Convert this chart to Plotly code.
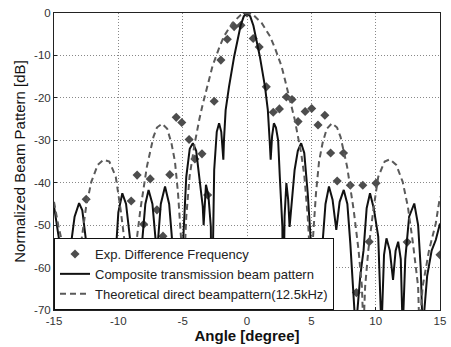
import plotly.graph_objects as go

# Exp. Difference Frequency (diamonds)
exp_angle = [-12.5, -10.05, -9.0, -8.54, -8.03, -7.52, -7.0, -6.53, -6.0, -5.5, -5.07, -4.5,
             -4.05, -3.5, -3.06, -2.55, -2.03, -1.53, -1.0, -0.47, 0.0, 0.48, 0.95, 1.5,
             2.04, 2.52, 3.06, 3.5, 3.97, 4.52, 5.03, 5.52, 6.05, 6.5, 7.01, 7.5, 8.03,
             8.5, 9.0, 9.5, 10.03, 12.45, 15.0]
exp_db = [-43.9, -56.6, -44.3, -38.2, -49.8, -39.1, -46.4, -52.6, -38.1, -24.6, -25.8, -29.8,
          -34.4, -33.2, -42.9, -20.8, -11.1, -6.2, -3.2, -2.9, 0.0, -6.0, -8.0, -17.4,
          -23.4, -22.6, -19.8, -20.4, -25.6, -23.2, -22.5, -26.4, -24.1, -33.0, -39.6, -33.0, -40.6,
          -65.9, -40.6, -53.9, -40.1, -54.0, -57.0]

# Composite transmission beam pattern (solid)
comp_angle = [-15.0, -14.6, -14.3, -14.0, -13.7, -13.4, -13.05, -12.8, -12.5, -12.25, -12.1,
              -11.95, -11.8, -11.6, -11.35, -11.1, -10.84, -10.6, -10.4, -10.2, -10.0, -9.69,
              -9.4, -9.05, -8.85, -8.6, -8.4, -8.16, -7.9, -7.65, -7.35, -7.0, -6.7, -6.37,
              -6.05, -5.74, -5.6, -5.35, -5.1, -4.97, -4.72, -4.45, -4.21, -3.95, -3.7, -3.44,
              -3.37, -3.19, -3.0, -2.81, -2.75, -2.6, -2.55, -2.35, -2.17, -2.0, -1.84, -1.79,
              -1.66, -1.4, -1.0, -0.5, -0.25, 0.0, 0.25, 0.5, 1.0, 1.4, 1.62, 1.76, 1.84,
              1.95, 2.09, 2.25, 2.42, 2.55, 2.75, 2.8, 2.92, 3.06, 3.2, 3.31, 3.44, 3.7, 3.95,
              4.21, 4.45, 4.72, 4.97, 5.1, 5.35, 5.6, 5.87, 6.1, 6.37, 6.65, 6.94, 7.2, 7.52,
              7.8, 8.03, 8.45, 8.8, 9.06, 9.3, 9.56, 9.85, 10.2, 10.45, 10.65, 10.84, 11.1,
              11.35, 11.55, 11.75, 11.95, 12.1, 12.3, 12.6, 13.0, 13.3, 13.5, 13.65, 14.0,
              14.35, 14.67, 15.0]
comp_db = [-45.5, -53.5, -62.0, -75.0, -55.0, -48.0, -44.8, -46.5, -54.0, -60.0, -75.0,
           -58.0, -54.5, -56.5, -59.0, -55.0, -53.1, -58.0, -75.0, -56.6, -47.0, -42.5,
           -45.0, -54.3, -75.0, -62.0, -75.0, -54.3, -45.0, -41.7, -45.0, -57.0, -45.0, -40.9,
           -45.0, -56.6, -75.0, -62.0, -75.0, -54.3, -38.6, -32.0, -30.7, -32.5, -38.6, -45.6,
           -50.0, -40.5, -43.0, -50.4, -75.0, -45.0, -37.0, -28.0, -26.0, -28.0, -34.6, -29.9,
           -22.9, -17.4, -10.3, -3.0, -0.8, 0.0, -0.8, -3.0, -10.3, -17.4, -22.9, -30.0, -34.6,
           -29.0, -26.0, -27.0, -30.0, -38.6, -50.4, -75.0, -48.0, -40.1, -44.0, -50.4, -46.4, -37.0, -32.5,
           -30.7, -33.0, -42.5, -54.3, -75.0, -57.0, -75.0, -54.3, -45.0, -40.9, -44.0, -51.1, -44.5, -41.7,
           -45.0, -54.3, -75.0, -62.0, -55.9, -46.0, -42.5, -46.0, -52.7, -75.0, -57.0, -53.1, -56.0,
           -62.9, -56.0, -53.9, -58.0, -75.0, -58.0, -48.0, -44.9, -50.0, -60.0, -75.0, -62.0,
           -56.0, -53.5, -49.6]

# Theoretical direct beampattern 12.5 kHz (dashed)
theo_angle = [-15.0, -14.67, -14.15, -13.75, -13.5, -13.3, -12.9, -12.5, -12.1, -11.6, -11.15,
              -10.7, -10.2, -9.82, -9.43, -9.18, -9.05, -8.93, -8.67, -8.29, -7.78, -7.27, -7.0,
              -6.6, -6.2, -5.87, -5.6, -5.36, -5.1, -5.0, -4.95, -4.85, -4.72, -4.46, -4.21,
              -4.08, -3.7, -3.44, -2.93, -2.68, -2.2, -1.79, -1.15, -0.5, 0.0, 0.5, 1.15, 1.79,
              2.2, 2.68, 2.93, 3.44, 3.7, 4.08, 4.21, 4.46, 4.72, 4.85, 4.95, 5.0, 5.1, 5.36,
              5.6, 5.87, 6.2, 6.6, 7.0, 7.27, 7.78, 8.29, 8.67, 8.93, 9.05, 9.18, 9.43, 9.82,
              10.2, 10.7, 11.1, 11.6, 12.1, 12.5, 12.9, 13.3, 13.4, 13.65, 14.15, 14.67, 15.0]
theo_db = [-44.5, -50.0, -57.0, -64.5, -75.0, -64.5, -54.3, -45.6, -39.8, -35.8, -34.6,
           -35.0, -38.6, -46.4, -55.9, -64.5, -75.0, -64.5, -55.9, -46.4, -36.2, -29.2, -27.0,
           -26.1, -27.3, -30.7, -35.0, -42.5, -54.3, -75.0, -64.0, -55.0, -48.0, -38.5, -33.0,
           -31.0, -25.0, -21.5, -15.5, -12.5, -8.5, -5.5, -2.4, -0.5, 0.0, -0.5, -2.4, -5.5,
           -8.5, -12.5, -15.5, -21.5, -25.0, -31.0, -33.0, -38.5, -48.0, -55.0, -64.0, -75.0, -54.3, -42.5,
           -35.0, -30.7, -27.3, -26.0, -27.0, -29.2, -36.2, -46.4, -55.9, -64.5, -75.0, -64.5, -55.9, -46.4,
           -38.6, -35.0, -34.5, -35.8, -39.8, -45.6, -54.3, -64.5, -75.0, -64.5, -55.9, -49.6, -43.3]

x_ticks = [-15, -10, -5, 0, 5, 10, 15]
y_ticks = [-70, -60, -50, -40, -30, -20, -10, 0]

FONT = "Liberation Sans, Arial, Helvetica, sans-serif"

fig = go.Figure()
fig.add_trace(go.Scatter(
    x=exp_angle, y=exp_db, mode="markers", name="Exp. Difference Frequency",
    marker=dict(symbol="diamond", size=7, color="#4d4d4d"),
))
fig.add_trace(go.Scatter(
    x=comp_angle, y=comp_db, mode="lines", name="Composite transmission beam pattern",
    line=dict(color="#111111", width=2),
))
fig.add_trace(go.Scatter(
    x=theo_angle, y=theo_db, mode="lines", name="Theoretical direct beampattern(12.5kHz)",
    line=dict(color="#5a5a5a", width=2, dash="6px,4px"),
))

fig.update_layout(
    width=451, height=347,
    margin=dict(l=54, r=5, t=13, b=37),
    paper_bgcolor="white", plot_bgcolor="white",
    font=dict(family=FONT, color="#222222", size=11),
    showlegend=True,
    legend=dict(
        x=0.0, y=0.0, xanchor="left", yanchor="bottom",
        bgcolor="white", bordercolor="#111111", borderwidth=1,
        font=dict(family=FONT, size=13, color="#222222"),
        tracegroupgap=0,
    ),
)
fig.update_xaxes(
    range=[-15, 15], tickvals=x_ticks, ticktext=[str(v) for v in x_ticks],
    ticklabeloverflow="allow",
    showgrid=True, gridcolor="#888888", griddash="1px,2px", gridwidth=1,
    showline=True, linecolor="#222222", linewidth=1, mirror=True,
    ticks="inside", ticklen=3, tickcolor="#222222", zeroline=False,
    tickfont=dict(size=11.5, color="#333333"),
    title=dict(text="<b>Angle [degree]</b>", font=dict(size=15, color="#111111"), standoff=4),
)
fig.update_yaxes(
    range=[-70, 0], tickvals=y_ticks, ticktext=[str(v) for v in y_ticks],
    ticklabeloverflow="allow",
    showgrid=True, gridcolor="#888888", griddash="1px,2px", gridwidth=1,
    showline=True, linecolor="#222222", linewidth=1, mirror=True,
    ticks="inside", ticklen=3, tickcolor="#222222", zeroline=False,
    tickfont=dict(size=11.5, color="#333333"),
    title=dict(text="Normalized Beam Pattern [dB]", font=dict(size=15, color="#111111"), standoff=4),
)

fig.write_html("out.html")
